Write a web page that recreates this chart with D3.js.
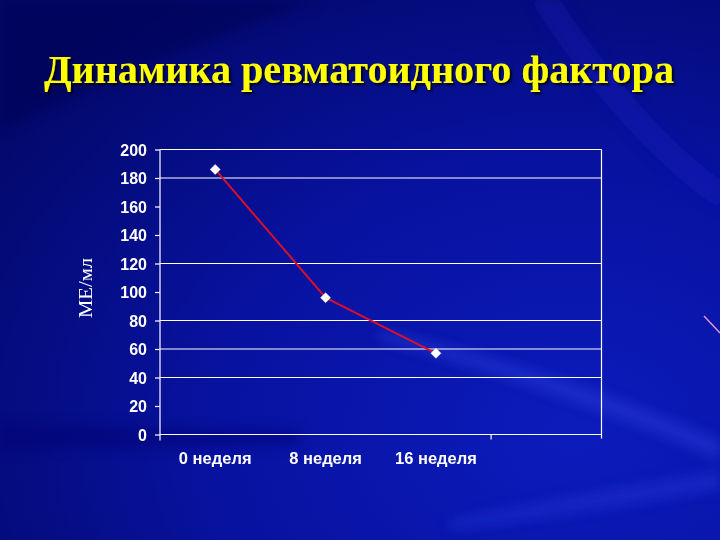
<!DOCTYPE html>
<html><head><meta charset="utf-8">
<script src="https://cdn.jsdelivr.net/npm/d3@7"></script>
<style>html,body{margin:0;padding:0;background:#06108a;}svg{display:block;}</style>
</head><body>
<script>
const categories = ["0 неделя", "8 неделя", "16 неделя", ""];
const values = [186, 96, 57];
const yTicks = [0, 20, 40, 60, 80, 100, 120, 140, 160, 180, 200];
const gridValues = [40, 60, 80, 120, 180, 200];
const title = "Динамика ревматоидного фактора";
const yLabel = "МЕ/мл";

const W = 720, H = 540;
const svg = d3.select("body").append("svg").attr("width", W).attr("height", H);
const defs = svg.append("defs");

// background
const bg = defs.append("radialGradient").attr("id", "bg").attr("cx", "0.8").attr("cy", "0.8").attr("r", "1.0");
bg.append("stop").attr("offset", "0").attr("stop-color", "#0c1cbc");
bg.append("stop").attr("offset", "0.5").attr("stop-color", "#0812a0");
bg.append("stop").attr("offset", "1").attr("stop-color", "#020868");
svg.append("rect").attr("width", W).attr("height", H).attr("fill", "url(#bg)");

const blur = defs.append("filter").attr("id", "blur").attr("x", "-20%").attr("y", "-20%").attr("width", "140%").attr("height", "140%");
blur.append("feGaussianBlur").attr("stdDeviation", 6);
const streaks = svg.append("g").attr("filter", "url(#blur)");
streaks.append("path").attr("d", "M380,330 Q560,370 720,440 L720,460 Q560,390 380,340 Z").attr("fill", "#3045e0").attr("opacity", 0.4);
streaks.append("path").attr("d", "M450,520 Q600,490 720,470 L720,490 Q600,510 450,530 Z").attr("fill", "#2a3ee0").attr("opacity", 0.35);
streaks.append("path").attr("d", "M0,425 L300,430 L300,445 L0,450 Z").attr("fill", "#030a70").attr("opacity", 0.45);
streaks.append("path").attr("d", "M560,0 Q640,120 720,180 L720,210 Q620,140 530,0 Z").attr("fill", "#1626c8").attr("opacity", 0.3);
streaks.append("path").attr("d", "M0,0 L320,0 Q150,60 0,130 Z").attr("fill", "#020650").attr("opacity", 0.45);
svg.append("line").attr("x1", 704).attr("y1", 316).attr("x2", 720).attr("y2", 333).attr("stroke", "#e8a0d8").attr("stroke-width", 1.3);

// title
const shadow = defs.append("filter").attr("id", "shadow");
shadow.append("feDropShadow").attr("dx", 2).attr("dy", 2).attr("stdDeviation", 0.8).attr("flood-color", "#000").attr("flood-opacity", 0.85);
svg.append("text").attr("x", 359).attr("y", 83).attr("text-anchor", "middle")
  .attr("font-family", "'Liberation Serif','Times New Roman',serif").attr("font-weight", "bold")
  .attr("font-size", 40).attr("fill", "#ffff00").attr("filter", "url(#shadow)")
  .attr("textLength", 630).attr("lengthAdjust", "spacingAndGlyphs")
  .text(title);

// plot
const L = 160, R = 601.5, T = 149.5, B = 434.5;
const x = d3.scaleBand().domain(categories.map((c, i) => i)).range([L, R]).paddingInner(0).paddingOuter(0);
const y = d3.scaleLinear().domain([0, 200]).range([B, T]);

const g = svg.append("g");
g.selectAll("line.grid").data(gridValues).join("line")
  .attr("x1", L).attr("x2", R).attr("y1", d => y(d)).attr("y2", d => y(d))
  .attr("stroke", "#ffffff").attr("stroke-width", 1.2);
// right border
g.append("line").attr("x1", R).attr("x2", R).attr("y1", T).attr("y2", B + 4).attr("stroke", "#ffffff").attr("stroke-width", 1.2);

// y axis
const yAxis = g.append("g").attr("transform", `translate(${L},0)`)
  .call(d3.axisLeft(y).tickValues(yTicks).tickSize(5).tickPadding(8));
yAxis.select(".domain").attr("stroke", "#fff").attr("stroke-width", 1.2).attr("d", `M0,${T}V${B + 6}`);
yAxis.selectAll(".tick line").attr("stroke", "#fff").attr("stroke-width", 1.2);
yAxis.selectAll(".tick text").attr("fill", "#fff").attr("font-family", "'Liberation Sans',Arial,sans-serif")
  .attr("font-weight", "bold").attr("font-size", 16).attr("dy", "0.35em");

// x axis
const xAxis = g.append("g").attr("transform", `translate(0,${B})`)
  .call(d3.axisBottom(x).tickFormat(i => categories[i]).tickSize(0).tickPadding(18));
xAxis.select(".domain").attr("stroke", "#fff").attr("stroke-width", 1.2).attr("d", `M${L},0H${R}`);
xAxis.selectAll(".tick text").attr("fill", "#fff").attr("font-family", "'Liberation Sans',Arial,sans-serif")
  .attr("font-weight", "bold").attr("font-size", 16.5);
g.append("line").attr("x1", x(3)).attr("x2", x(3)).attr("y1", B).attr("y2", B + 5).attr("stroke", "#fff").attr("stroke-width", 1.2);

// y label
svg.append("text").attr("transform", `translate(92,${288}) rotate(-90)`).attr("text-anchor", "middle")
  .attr("font-family", "'Liberation Serif','Times New Roman',serif").attr("font-size", 18).attr("fill", "#fff")
  .attr("textLength", 60).attr("lengthAdjust", "spacingAndGlyphs")
  .text(yLabel);

// series line
const cx = i => x(i) + x.bandwidth() / 2;
const line = d3.line().x((d, i) => cx(i)).y(d => y(d));
g.append("path").datum(values).attr("d", line).attr("fill", "none").attr("stroke", "#d8102a").attr("stroke-width", 2);
const sym = d3.symbol().type(d3.symbolDiamond2).size(64);
g.selectAll("path.pt").data(values).join("path").attr("class", "pt")
  .attr("transform", (d, i) => `translate(${cx(i)},${y(d)})`).attr("d", sym)
  .attr("fill", "#ffffff").attr("stroke", "#ffffff").attr("stroke-width", 0.5);
</script>
</body></html>
